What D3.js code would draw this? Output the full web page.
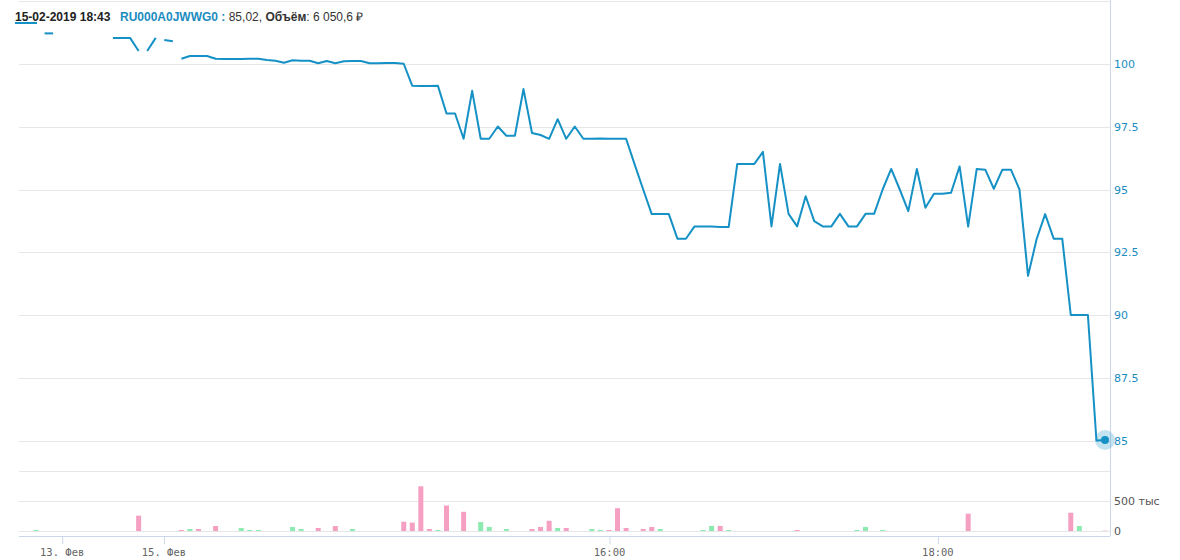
<!DOCTYPE html>
<html>
<head>
<meta charset="utf-8">
<script src="https://cdn.jsdelivr.net/npm/d3@7"></script>
<style>
  html, body { margin: 0; padding: 0; background: #fff; }
  svg { display: block; }
</style>
</head>
<body>
<svg id="chart" width="1180" height="560"></svg>
<script>
// ---- data (ordinal index 0..125) ----
const prices = [
  101.22, 101.22, 101.22, null, null, null, null, null, null, 101.04,
  101.04, 101.04, 100.52, 100.52, 101.04, 100.96, 100.91, 100.21, 100.32, 100.32,
  100.32, 100.21, 100.2, 100.2, 100.2, 100.21, 100.21, 100.16, 100.13, 100.05,
  100.15, 100.13, 100.13, 100.03, 100.12, 100.03, 100.11, 100.12, 100.12, 100.03,
  100.03, 100.04, 100.04, 100.01, 99.13, 99.12, 99.12, 99.13, 98.03, 98.03,
  97.02, 98.93, 97.02, 97.02, 97.51, 97.14, 97.14, 99.0, 97.25, 97.17,
  97.02, 97.8, 97.02, 97.51, 97.02, 97.02, 97.03, 97.02, 97.02, 97.02,
  96.0, 95.0, 94.02, 94.02, 94.02, 93.04, 93.04, 93.53, 93.53, 93.53,
  93.51, 93.51, 96.02, 96.02, 96.02, 96.5, 93.53, 96.02, 94.03, 93.53,
  94.73, 93.74, 93.53, 93.53, 94.03, 93.53, 93.53, 94.03, 94.03, 95.0,
  95.82, 95.0, 94.14, 95.82, 94.27, 94.83, 94.83, 94.87, 95.92, 93.52,
  95.82, 95.79, 95.03, 95.79, 95.79, 95.0, 91.56, 93.02, 94.02, 93.04,
  93.04, 90.0, 90.0, 90.0, 85.0, 85.02
];
// indices where the line starts a new segment (time gaps)
const lineBreaks = [1, 9, 13, 15, 17];

// volume, thousands
const volumes = [
  17, 0, 0, 0, 0, 0, 0, 0, 0, 0,
  0, 0, 255, 0, 0, 0, 0, 17, 33, 33,
  0, 83, 0, 0, 50, 17, 17, 0, 0, 0,
  67, 33, 0, 50, 0, 83, 0, 33, 0, 0,
  0, 0, 0, 155, 140, 745, 34, 17, 425, 0,
  320, 0, 150, 68, 0, 34, 0, 0, 34, 68,
  170, 51, 51, 0, 0, 34, 17, 17, 380, 51,
  0, 34, 68, 34, 0, 0, 0, 0, 17, 85,
  85, 17, 0, 0, 0, 0, 0, 0, 0, 17,
  0, 0, 0, 0, 0, 0, 17, 68, 0, 17,
  0, 0, 0, 0, 0, 0, 0, 0, 0, 288,
  0, 0, 0, 0, 0, 0, 0, 0, 0, 0,
  0, 305, 83, 0, 0, 6
];
// 1 = up (green), 0 = down (pink)
const volumeUp = [
  1, 0, 0, 0, 0, 0, 0, 0, 0, 0,
  0, 0, 0, 0, 0, 0, 0, 0, 1, 0,
  0, 0, 0, 0, 1, 1, 1, 0, 0, 0,
  1, 1, 0, 0, 0, 0, 0, 1, 0, 0,
  0, 0, 0, 0, 0, 0, 0, 1, 0, 0,
  0, 0, 1, 1, 0, 1, 0, 0, 0, 0,
  0, 1, 0, 0, 0, 1, 1, 0, 0, 0,
  0, 0, 0, 1, 0, 0, 0, 0, 1, 1,
  0, 1, 0, 0, 0, 0, 0, 0, 0, 0,
  0, 0, 0, 0, 0, 0, 1, 1, 0, 1,
  0, 0, 0, 0, 0, 0, 0, 0, 0, 0,
  0, 0, 0, 0, 0, 0, 0, 0, 0, 0,
  0, 0, 1, 0, 0, 0
];

const xTickPositions = [3, 14.9, 67, 105.4];
const xTickLabels = ["13. Фев", "15. Фев", "16:00", "18:00"];
const priceTicks = [85, 87.5, 90, 92.5, 95, 97.5, 100];
const priceGrid = [85, 87.5, 90, 92.5, 95, 97.5, 100, 102.5];
const volumeTicks = [0, 500];
const volumeTickLabels = ["0", "500 тыс"];
const volumeGrid = [0, 500, 1000];

const headerDate = "15-02-2019 18:43";
const headerSeries = "RU000A0JWWG0 :";
const headerValue = " 85,02, ";
const headerVolLabel = "Объём";
const headerVolValue = ": 6 050,6 ₽";

// ---- layout ----
const LINE = "#1591c6";
const GRID = "#e6e6e6";
const AXIS = "#ccd6eb";
const plotL = 19, plotR = 1110;

const svg = d3.select("#chart");

const x = d3.scaleLinear().domain([0, prices.length - 1]).range([36, 1105]);
const y = d3.scaleLinear().domain([85, 100]).range([440.5, 64]);
const yv = d3.scaleLinear().domain([0, 1000]).range([531, 471]);

// gridlines
svg.append("g").selectAll("line").data(priceGrid).join("line")
  .attr("x1", plotL).attr("x2", plotR)
  .attr("y1", d => Math.round(y(d)) + 0.5).attr("y2", d => Math.round(y(d)) + 0.5)
  .attr("stroke", GRID).attr("stroke-width", 1);
svg.append("g").selectAll("line").data(volumeGrid).join("line")
  .attr("x1", plotL).attr("x2", plotR)
  .attr("y1", d => Math.round(yv(d)) + 0.5).attr("y2", d => Math.round(yv(d)) + 0.5)
  .attr("stroke", GRID).attr("stroke-width", 1);

// right border + bottom axis line
svg.append("line").attr("x1", plotR + 0.5).attr("x2", plotR + 0.5).attr("y1", 0).attr("y2", 536)
  .attr("stroke", AXIS);
svg.append("line").attr("x1", plotL).attr("x2", plotR).attr("y1", 536.5).attr("y2", 536.5)
  .attr("stroke", AXIS);

// volume bars
const volData = volumes.map((v, i) => ({ i, v, up: volumeUp[i] })).filter(d => d.v > 0);
svg.append("g").selectAll("rect").data(volData).join("rect")
  .attr("x", d => x(d.i) - 2.5)
  .attr("width", 5)
  .attr("y", d => yv(d.v))
  .attr("height", d => yv(0) - yv(d.v))
  .attr("fill", d => d.up ? "#8deab0" : "#f5a0c3");

// price line with gaps
const pts = prices.map((v, i) => ({ i, v, seg: 0 }));
let seg = 0;
pts.forEach(p => { if (lineBreaks.includes(p.i) || p.v === null) seg++; p.seg = seg; });
const groups = d3.groups(pts.filter(p => p.v !== null), p => p.seg).map(g => g[1]);
const line = d3.line().x(d => x(d.i)).y(d => y(d.v));
svg.append("g").selectAll("path").data(groups.filter(g => g.length > 1)).join("path")
  .attr("d", line)
  .attr("fill", "none")
  .attr("stroke", LINE)
  .attr("stroke-width", 2)
  .attr("stroke-linejoin", "round");

// last point halo + marker
const last = pts[pts.length - 1];
svg.append("circle").attr("cx", x(last.i)).attr("cy", y(last.v)).attr("r", 10)
  .attr("fill", LINE).attr("fill-opacity", 0.25);
svg.append("circle").attr("cx", x(last.i)).attr("cy", y(last.v)).attr("r", 4)
  .attr("fill", LINE);

// price axis (right)
const ya = svg.append("g").attr("transform", `translate(${plotR},0)`)
  .call(d3.axisRight(y).tickValues(priceTicks).tickSize(0).tickPadding(4)
    .tickFormat(d => String(d)));
ya.select(".domain").remove();
ya.selectAll("text").attr("fill", "#1a8cc0").style("font-family", "'DejaVu Sans', sans-serif").style("font-size", "11px");

// volume axis (right)
const va = svg.append("g").attr("transform", `translate(${plotR},0)`)
  .call(d3.axisRight(yv).tickValues(volumeTicks).tickSize(0).tickPadding(4)
    .tickFormat((d, i) => volumeTickLabels[i]));
va.select(".domain").remove();
va.selectAll("text").attr("fill", "#555").style("font-family", "'DejaVu Sans', sans-serif").style("font-size", "11px");

// x axis
const xa = svg.append("g").attr("transform", "translate(0,536)")
  .call(d3.axisBottom(x).tickValues(xTickPositions).tickSize(8).tickPadding(5)
    .tickFormat((d, i) => xTickLabels[i]));
xa.select(".domain").remove();
xa.selectAll(".tick line").attr("stroke", AXIS).attr("transform", "translate(0.5,0)");
xa.selectAll("text").attr("fill", "#666").style("font-family", "'DejaVu Sans Mono', monospace").style("font-size", "10.5px");

// header
svg.append("line").attr("x1", 15).attr("x2", 37).attr("y1", 23).attr("y2", 23)
  .attr("stroke", LINE).attr("stroke-width", 2);
svg.append("text").attr("x", 15).attr("y", 21)
  .style("font-family", "'Liberation Sans', Arial, sans-serif").style("font-size", "12px")
  .style("font-weight", "bold").attr("fill", "#222").text(headerDate);
const ht = svg.append("text").attr("x", 120).attr("y", 21)
  .style("font-family", "'Liberation Sans', Arial, sans-serif").style("font-size", "12px")
  .attr("fill", "#333");
ht.append("tspan").style("font-weight", "bold").attr("fill", "#1a8cc0").text(headerSeries);
ht.append("tspan").text(headerValue);
ht.append("tspan").style("font-weight", "bold").text(headerVolLabel);
ht.append("tspan").text(headerVolValue);
</script>
</body>
</html>
